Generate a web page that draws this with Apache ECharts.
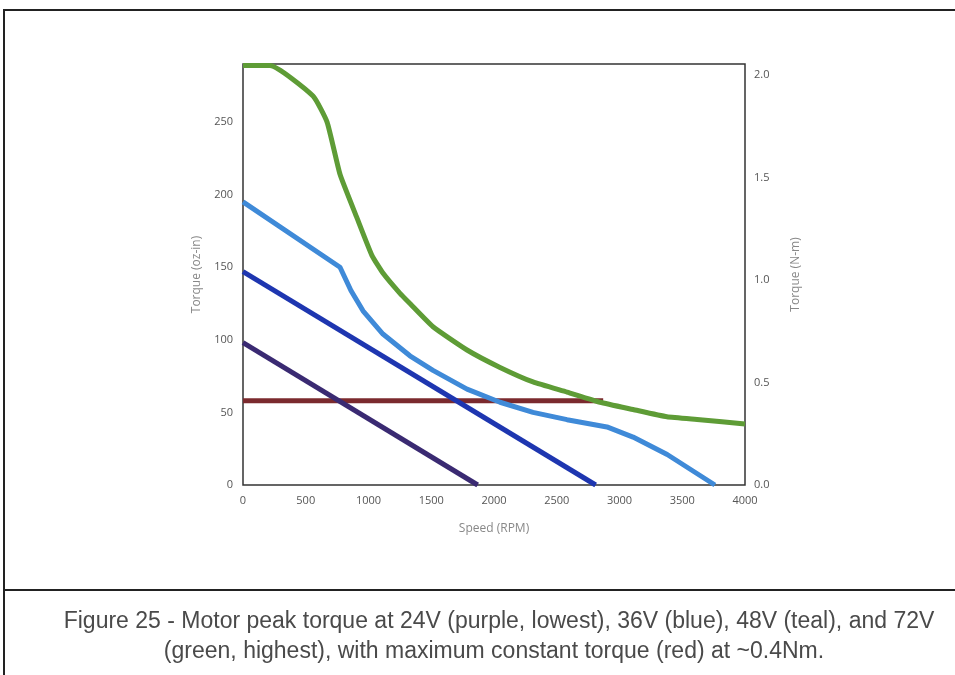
<!DOCTYPE html>
<html>
<head>
<meta charset="utf-8">
<script src="https://cdn.jsdelivr.net/npm/echarts@6/dist/echarts.min.js"></script>
<style>
  html, body { margin: 0; padding: 0; background: #fff; }
  #chart-container { width: 955px; height: 675px; }
</style>
</head>
<body>
<div id="chart-container"></div>
<script>
// speed (RPM) and torque (oz-in)
const red_rpm = [0, 2870];
const red_tq = [58, 58];

const purple_rpm = [0, 1870];
const purple_tq = [98, 0];

const blue_rpm = [0, 2810];
const blue_tq = [147, 0];

const teal_rpm = [0, 773, 860, 956, 1115, 1330, 1514, 1785, 2048, 2311, 2582, 2900, 3108, 3380, 3760];
const teal_tq = [195, 150, 134, 120, 104, 89, 79, 66, 57, 50, 45, 40, 33, 21, 0];

const green_rpm = [0, 215, 558, 670, 773, 908, 1028, 1115, 1251, 1330, 1514, 1785, 2048, 2311, 2582, 2845, 3108, 3378, 3641, 4000];
const green_tq = [289, 289, 268, 250, 214, 184, 158, 146, 132, 125, 109, 93, 81, 71, 64, 57, 52, 47, 45, 42];

const xTicks = [0, 500, 1000, 1500, 2000, 2500, 3000, 3500, 4000];
const ozMax = 290;
const ozPerNm = 141.2;

const caption1 = "Figure 25 - Motor peak torque at 24V (purple, lowest), 36V (blue), 48V (teal), and 72V";
const caption2 = "(green, highest), with maximum constant torque (red) at ~0.4Nm.";

function pairs(xs, ys) {
  return xs.map((x, i) => [x, ys[i]]);
}

const dom = document.getElementById("chart-container");
const myChart = echarts.init(dom, null, { renderer: "canvas" });

const labelStyle = { color: "#555", fontSize: 11, fontFamily: "Open Sans" };
const nameStyle = { color: "#888", fontSize: 12, fontFamily: "Open Sans" };

function line(name, xs, ys, color, smooth) {
  return {
    name: name,
    type: "line",
    data: pairs(xs, ys),
    showSymbol: false,
    symbol: "none",
    smooth: smooth || false,
    lineStyle: { color: color, width: 5, cap: "butt", join: "round" },
    itemStyle: { color: color },
    clip: true,
  };
}

const option = {
  animation: false,
  backgroundColor: "#fff",
  grid: {
    left: 243,
    right: 210,
    top: 64,
    bottom: 190,
    show: true,
    borderColor: "#333",
    borderWidth: 1.5,
  },
  graphic: [
    {
      type: "rect",
      shape: { x: 4, y: 10, width: 1000, height: 720 },
      style: { fill: null, stroke: "#222", lineWidth: 2 },
      silent: true,
    },
    {
      type: "line",
      shape: { x1: 4, y1: 590, x2: 955, y2: 590 },
      style: { stroke: "#222", lineWidth: 2 },
      silent: true,
    },
    {
      type: "text",
      x: 499,
      y: 622,
      style: {
        text: caption1,
        fill: "#4a4a4a",
        font: '23px "Liberation Sans"',
        align: "center",
        verticalAlign: "middle",
      },
    },
    {
      type: "text",
      x: 494,
      y: 652,
      style: {
        text: caption2,
        fill: "#4a4a4a",
        font: '23px "Liberation Sans"',
        align: "center",
        verticalAlign: "middle",
      },
    },
  ],
  xAxis: {
    type: "value",
    min: xTicks[0],
    max: xTicks[xTicks.length - 1],
    interval: 500,
    name: "Speed (RPM)",
    nameLocation: "middle",
    nameGap: 38,
    nameTextStyle: nameStyle,
    axisLine: { show: false },
    axisTick: { show: false },
    splitLine: { show: false },
    axisLabel: Object.assign({ margin: 10, formatter: (v) => String(v) }, labelStyle),
  },
  yAxis: [
    {
      type: "value",
      min: 0,
      max: ozMax,
      interval: 50,
      name: "Torque (oz-in)",
      nameLocation: "middle",
      nameGap: 40,
      nameTextStyle: nameStyle,
      axisLine: { show: false },
      axisTick: { show: false },
      splitLine: { show: false },
      axisLabel: Object.assign({ margin: 10, showMaxLabel: false }, labelStyle),
    },
    {
      type: "value",
      position: "right",
      min: 0,
      max: ozMax / ozPerNm,
      interval: 0.5,
      name: "Torque (N-m)",
      nameLocation: "middle",
      nameGap: 45,
      nameTextStyle: nameStyle,
      axisLine: { show: false },
      axisTick: { show: false },
      splitLine: { show: false },
      axisLabel: Object.assign({
        margin: 9,
        showMaxLabel: false,
        formatter: (v) => v.toFixed(1),
      }, labelStyle),
    },
  ],
  series: [
    line("Constant (red)", red_rpm, red_tq, "#7b2a2e"),
    line("24V", purple_rpm, purple_tq, "#3a2a72"),
    line("36V", blue_rpm, blue_tq, "#1e36b0"),
    line("48V", teal_rpm, teal_tq, "#3f8ad8"),
    line("72V", green_rpm, green_tq, "#5e9c36", 0.15),
  ],
};

myChart.setOption(option);
window.addEventListener("resize", myChart.resize);
</script>
</body>
</html>
